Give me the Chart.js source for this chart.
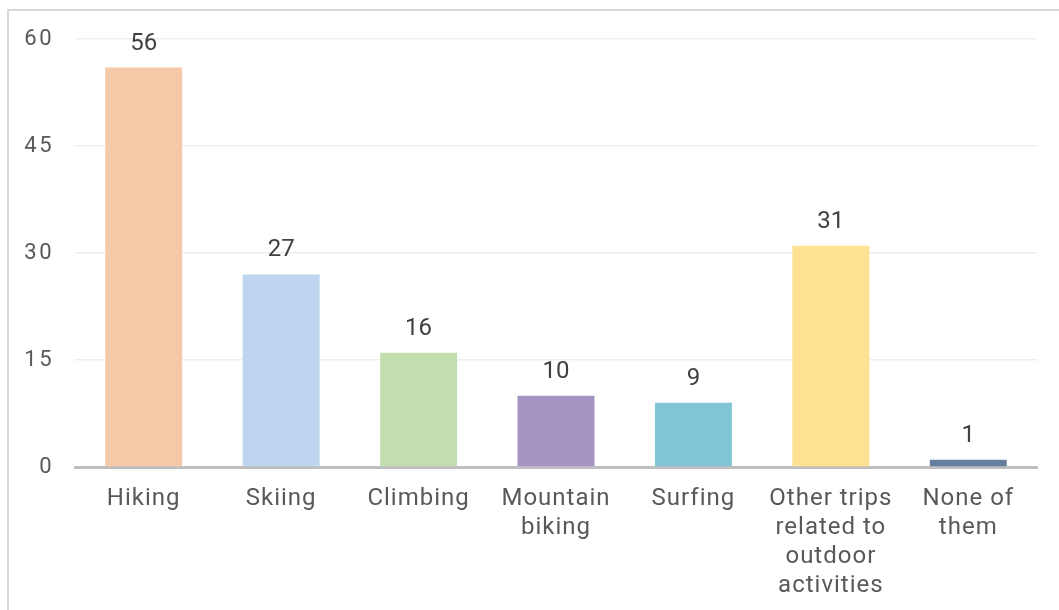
<!DOCTYPE html>
<html>
<head>
<meta charset="utf-8">
<script src="https://cdn.jsdelivr.net/npm/chart.js@4.4.0/dist/chart.umd.min.js"></script>
<style>
  html, body { margin: 0; padding: 0; background: #fff; overflow: hidden; }
  #frame { position: absolute; left: 7px; top: 9px; width: 2000px; height: 2000px; border-left: 2px solid #d9d9d9; border-top: 2px solid #d9d9d9; }
  #wrap { position: absolute; left: 0; top: 0; width: 1059px; height: 610px; }
</style>
</head>
<body>
<div id="frame"></div>
<div id="wrap"><canvas id="c"></canvas></div>
<script>
const categories = [
  "Hiking",
  "Skiing",
  "Climbing",
  ["Mountain", "biking"],
  "Surfing",
  ["Other trips", "related to", "outdoor", "activities"],
  ["None of", "them"]
];
const values = [56, 27, 16, 10, 9, 31, 1];
const barColors = ["#f5c8a7", "#bdd5ee", "#c3deae", "#a594c2", "#80c4d6", "#fde291", "#667f9e"];
const yTicks = [0, 15, 30, 45, 60];

const dataLabels = {
  id: 'dataLabels',
  afterDatasetsDraw(chart) {
    const ctx = chart.ctx;
    const meta = chart.getDatasetMeta(0);
    ctx.save();
    ctx.font = '24px Roboto';
    ctx.fillStyle = '#404040';
    ctx.textAlign = 'center';
    ctx.textBaseline = 'middle';
    meta.data.forEach((bar, i) => {
      ctx.fillText(String(values[i]), bar.x, bar.y - 24);
    });
    ctx.restore();
  }
};

function spaced(scale, px) {
  if (scale._spacedPatched) return;
  const orig = scale.drawLabels;
  scale.drawLabels = function (area) {
    this.ctx.save();
    this.ctx.letterSpacing = px;
    orig.call(this, area);
    this.ctx.restore();
  };
  scale._spacedPatched = true;
}

new Chart(document.getElementById('c'), {
  type: 'bar',
  data: {
    labels: categories,
    datasets: [{
      data: values,
      backgroundColor: barColors,
      borderWidth: 0,
      barPercentage: 0.56,
      categoryPercentage: 1
    }]
  },
  options: {
    responsive: true,
    maintainAspectRatio: false,
    animation: false,
    layout: { padding: { top: 39, right: 22, left: 0, bottom: 0 } },
    plugins: { legend: { display: false }, tooltip: { enabled: false } },
    scales: {
      x: {
        grid: { display: false, drawTicks: false },
        border: { display: true, color: '#bfbfbf', width: 3 },
        ticks: {
          color: '#595959',
          font: { family: 'Roboto', size: 24, lineHeight: 1.2 },
          padding: 18,
          maxRotation: 0,
          autoSkip: false
        },
        afterFit(scale) { scale.height = 143; spaced(scale, '1px'); }
      },
      y: {
        min: 0,
        max: 60,
        afterBuildTicks(scale) { scale.ticks = yTicks.map(v => ({ value: v })); },
        grid: {
          color: (c) => c.tick && c.tick.value === 0 ? 'rgba(0,0,0,0)' : '#efefef',
          lineWidth: 1.5,
          drawTicks: false
        },
        border: { display: false },
        ticks: {
          color: '#595959',
          font: { family: 'Roboto', size: 22 },
          padding: 21
        },
        afterFit(scale) { scale.width = 75; spaced(scale, '2.5px'); }
      }
    }
  },
  plugins: [dataLabels]
});
</script>
</body>
</html>
